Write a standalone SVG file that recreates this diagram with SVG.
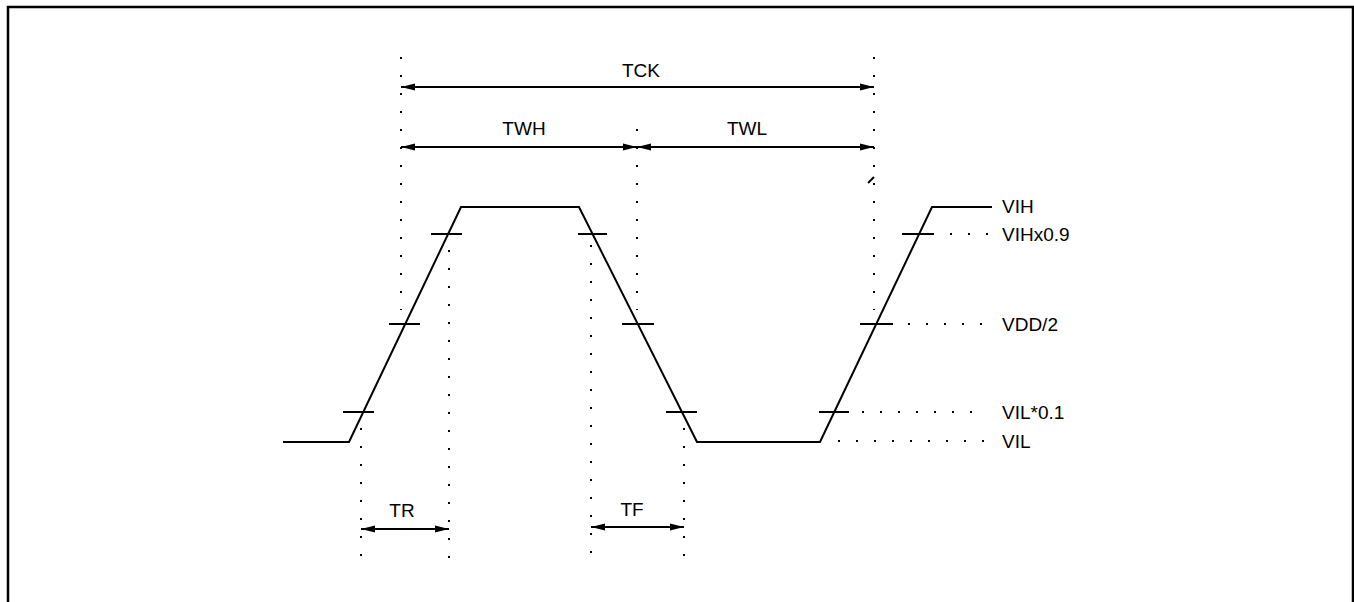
<svg xmlns="http://www.w3.org/2000/svg" width="1354" height="602" viewBox="0 0 1354 602">
<defs>
<style>
.frame{fill:none;stroke:#000;stroke-width:2.5}
.wave{fill:none;stroke:#000;stroke-width:2}
.tick{stroke:#000;stroke-width:2}
.dot{stroke:#000;stroke-width:2;stroke-dasharray:2 16;fill:none}
.dim{stroke:#000;stroke-width:2;fill:none;marker-start:url(#arr);marker-end:url(#arr)}
text{font-family:"Liberation Sans",Arial,sans-serif;font-size:19px;fill:#000}
</style>
<marker id="arr" markerUnits="userSpaceOnUse" markerWidth="15" markerHeight="8" refX="14" refY="4" orient="auto-start-reverse">
<path d="M0,0.5 L14,4 L0,7.5 z" fill="#000"/>
</marker>
</defs>
<rect width="1354" height="602" fill="#fff"/>
<path class="frame" d="M8,602 V7 H1353 V602"/>

<g id="guides">
<line class="dot" x1="401" y1="57" x2="401" y2="310"/>
<line class="dot" x1="637" y1="129" x2="637" y2="310"/>
<line class="dot" x1="874" y1="57" x2="874" y2="310"/>
<line class="dot" x1="449" y1="250" x2="449" y2="558"/>
<line class="dot" x1="591" y1="245" x2="591" y2="555"/>
<line class="dot" x1="361" y1="428" x2="361" y2="558"/>
<line class="dot" x1="684" y1="428" x2="684" y2="558"/>
<line class="dot" x1="950" y1="234" x2="988" y2="234"/>
<line class="dot" x1="908" y1="324" x2="988" y2="324"/>
<line class="dot" x1="862" y1="412" x2="988" y2="412"/>
<line class="dot" x1="838" y1="441" x2="988" y2="441"/>
<line class="tick" x1="868" y1="183" x2="874" y2="177" stroke-width="1.5"/>
</g>

<g id="waveform">
<polyline class="wave" points="283,442 349,442 461,207 579,207 697,442 820,442 932,207 992,207"/>
<line class="tick" x1="431" y1="234" x2="462" y2="234"/>
<line class="tick" x1="578" y1="234" x2="607" y2="234"/>
<line class="tick" x1="902" y1="234" x2="934" y2="234"/>
<line class="tick" x1="389" y1="324" x2="420" y2="324"/>
<line class="tick" x1="622" y1="324" x2="654" y2="324"/>
<line class="tick" x1="860" y1="324" x2="893" y2="324"/>
<line class="tick" x1="343" y1="412" x2="374" y2="412"/>
<line class="tick" x1="666" y1="412" x2="697" y2="412"/>
<line class="tick" x1="819" y1="412" x2="849" y2="412"/>
</g>

<g id="connectors">
<line class="dim" x1="401" y1="87" x2="874" y2="87"/>
<line class="dim" x1="401" y1="147" x2="637" y2="147"/>
<line class="dim" x1="637" y1="147" x2="874" y2="147"/>
<line class="dim" x1="361" y1="529" x2="449" y2="529"/>
<line class="dim" x1="591" y1="527" x2="684" y2="527"/>
</g>

<g id="label-tck"><text x="641" y="77" text-anchor="middle">TCK</text></g>
<g id="label-twh"><text x="524" y="135" text-anchor="middle">TWH</text></g>
<g id="label-twl"><text x="747" y="135" text-anchor="middle">TWL</text></g>
<g id="label-tr"><text x="402" y="517" text-anchor="middle">TR</text></g>
<g id="label-tf"><text x="632" y="516" text-anchor="middle">TF</text></g>
<g id="label-vih"><text x="1002" y="213">VIH</text></g>
<g id="label-vihx09"><text x="1002" y="241">VIHx0.9</text></g>
<g id="label-vdd2"><text x="1002" y="331">VDD/2</text></g>
<g id="label-vil01"><text x="1002" y="419">VIL*0.1</text></g>
<g id="label-vil"><text x="1002" y="448">VIL</text></g>
</svg>
